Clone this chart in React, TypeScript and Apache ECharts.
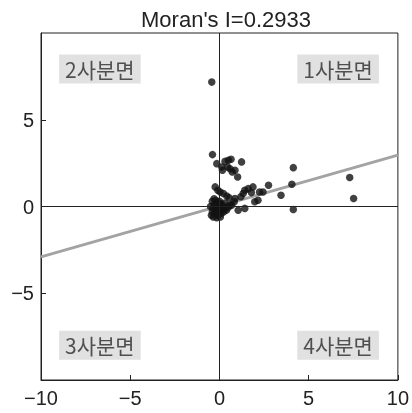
import React, { useEffect, useRef } from "react";
import * as echarts from "echarts";

const title = "Moran's I=0.2933";
const slope = 0.2933;
const intercept = 0.03;
const lineXs = [-10, 10];
const xTicks = [-10, -5, 0, 5, 10];
const yTicks = [-5, 0, 5];

const quadrantNames = ["1사분면", "2사분면", "3사분면", "4사분면"];
const quadrantX = [6.65, -6.7, -6.7, 6.65];
const quadrantY = [7.93, 7.93, -8.0, -8.0];

const pointsX = [
  -0.43, -0.39, -0.15, 0.31, 0.5, 0.65, 0.17, 0.13, 0.59, 0.72, 0.87, 1.02, 1.24, 0.46,
  -0.24, -0.09, 0.04, 0.22, 0.41, 0.54, 1.42, 1.61, 1.88, 1.79, 1.33, 1.2, 0.87, 2.25,
  2.75, 2.44, 2.16, 1.98, 3.45, 1.42, 1.05, 0.68, 0.83, 4.14, 4.06, 4.14, 7.3, 7.52,
  -0.45, -0.4, -0.35, -0.3, -0.25, -0.2, -0.15, -0.1, -0.05, 0.0, 0.05, 0.1, 0.15, 0.2,
  -0.4, -0.3, -0.2, -0.1, 0.0, 0.1, 0.25, 0.3, -0.5, -0.35, -0.15, 0.05, 0.3, 0.4, 0.5, 0.6,
];
const pointsY = [
  7.17, 2.99, 2.47, 2.6, 2.66, 2.72, 2.09, 2.28, 2.18, 1.99, 2.09, 1.7, 2.57, 2.28,
  1.13, 0.94, 0.84, 0.75, 0.61, 0.5, 0.94, 1.03, 1.13, 0.8, 0.75, 0.56, 0.46, 0.84,
  1.22, 0.84, 0.36, 0.27, 0.65, -0.11, -0.21, 0.07, 0.27, 2.24, 1.28, -0.17, 1.67, 0.46,
  -0.5, -0.3, -0.1, 0.1, -0.4, -0.2, 0.0, -0.5, -0.3, -0.1, 0.1, -0.4, -0.2, 0.0,
  0.3, 0.45, 0.35, 0.2, 0.3, 0.15, -0.3, -0.1, 0.0, -0.6, -0.65, -0.6, 0.2, -0.2, -0.05, 0.1,
];

const FONT = "'Liberation Sans', 'Noto Sans CJK KR', sans-serif";
const fmt = (v: number) => (v < 0 ? "\u2212" + Math.abs(v) : String(v));

export default function App() {
  const ref = useRef<HTMLDivElement>(null);
  useEffect(() => {
    if (!ref.current) return;
    const chart = echarts.init(ref.current, undefined, { renderer: "svg" });
    const points = pointsX.map((x, i) => [x, pointsY[i]]);
    const line = lineXs.map((x) => [x, slope * x + intercept]);
    const quads = quadrantNames.map((n, i) => ({ value: [quadrantX[i], quadrantY[i]], name: n }));
    chart.setOption({
      animation: false,
      title: {
        text: title,
        left: 221,
        textAlign: "center",
        top: 3,
        textStyle: { fontFamily: FONT, fontSize: 22, fontWeight: "normal", color: "#222" },
      },
      grid: {
        left: 41,
        right: 10,
        top: 33,
        bottom: 33,
        show: true,
        borderColor: "#222",
        borderWidth: 1,
        backgroundColor: "transparent",
      },
      xAxis: {
        type: "value",
        min: -10,
        max: 10,
        interval: 5,
        splitLine: { show: false },
        axisLine: { onZero: false, lineStyle: { color: "#222" } },
        axisTick: { inside: true, length: 5, lineStyle: { color: "#222" } },
        axisLabel: {
          formatter: (v: number) => (xTicks.includes(v) ? fmt(v) : ""),
          color: "#222",
          fontFamily: FONT,
          fontSize: 20,
          margin: 8,
        },
      },
      yAxis: {
        type: "value",
        min: -10,
        max: 10,
        interval: 5,
        splitLine: { show: false },
        axisLine: { onZero: false, lineStyle: { color: "#222" } },
        axisTick: { inside: true, length: 5, lineStyle: { color: "#222" } },
        axisLabel: {
          formatter: (v: number) => (yTicks.includes(v) ? fmt(v) : ""),
          showMinLabel: false,
          showMaxLabel: false,
          color: "#222",
          fontFamily: FONT,
          fontSize: 20,
          margin: 7,
        },
      },
      series: [
        {
          type: "line",
          data: line,
          showSymbol: false,
          symbol: "none",
          lineStyle: { color: "#a3a3a3", width: 3 },
          silent: true,
          z: 1,
        },
        {
          type: "scatter",
          data: points,
          symbol: "circle",
          symbolSize: 7.5,
          itemStyle: { color: "#111" },
          z: 3,
          markLine: {
            silent: true,
            symbol: "none",
            label: { show: false },
            lineStyle: { color: "#222", width: 1, type: "solid" },
            data: [{ xAxis: 0 }, { yAxis: 0 }],
          },
        },
        {
          type: "scatter",
          data: quads,
          symbolSize: 0,
          silent: true,
          z: 4,
          label: {
            show: true,
            position: "inside",
            formatter: (p: any) => p.name,
            fontFamily: "'Noto Sans CJK KR', sans-serif",
            fontSize: 21,
            color: "#2a2a2a",
            backgroundColor: "#d9d9d9",
            padding: [4, 6, 4, 6],
          },
        },
      ],
    });
    return () => chart.dispose();
  }, []);
  return (
    <div
      ref={ref}
      style={{ position: "fixed", left: 0, top: 0, width: 412, height: 413 }}
    />
  );
}
